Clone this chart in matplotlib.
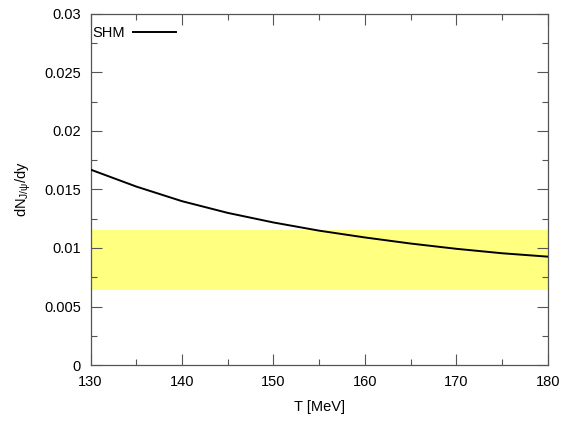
import matplotlib
matplotlib.use("Agg")
import matplotlib.pyplot as plt
from matplotlib.ticker import MultipleLocator

plt.rcParams['font.family'] = ['Liberation Sans', 'DejaVu Sans']
plt.rcParams['mathtext.fontset'] = 'custom'
plt.rcParams['mathtext.rm'] = 'Liberation Sans'
plt.rcParams['mathtext.it'] = 'Liberation Sans:italic'

# SHM curve
T = [130, 135, 140, 145, 150, 155, 160, 165, 170, 175, 180]
dndy = [0.0167, 0.01525, 0.0140, 0.0130, 0.01218, 0.01148, 0.0109, 0.01038, 0.00993, 0.00955, 0.00926]

# measured band
band_lo = 0.0064
band_hi = 0.0115

fig = plt.figure(figsize=(5.64, 4.22), dpi=100)
ax = fig.add_axes([0.1605, 0.135, 0.811, 0.832])

ax.axhspan(band_lo, band_hi, color='#ffff80', lw=0, zorder=1)
ax.plot(T, dndy, color='black', lw=1.4, label='SHM', zorder=3)

ax.set_xlim(130, 180)
ax.set_ylim(0, 0.03)
ax.xaxis.set_major_locator(MultipleLocator(10))
ax.xaxis.set_minor_locator(MultipleLocator(5))
ax.yaxis.set_minor_locator(MultipleLocator(0.0025))
ax.set_yticks([0, 0.005, 0.01, 0.015, 0.02, 0.025, 0.03])
ax.set_yticklabels(['0', '0.005', '0.01', '0.015', '0.02', '0.025', '0.03'])

ax.tick_params(which='both', direction='in', top=True, right=True,
               color='#555555', width=0.8, labelsize=10.5, pad=7)
ax.tick_params(which='major', length=8)
ax.tick_params(which='minor', length=4)
for s in ax.spines.values():
    s.set_color('#555555')
    s.set_linewidth(0.9)

ax.set_xlabel('T [MeV]', fontsize=10.5, labelpad=8)
ax.set_ylabel(r'dN$_{\mathrm{J/\psi}}$/dy', fontsize=10.5, labelpad=8)

ax.legend(loc='upper left', markerfirst=False, frameon=False, fontsize=10.5,
          handlelength=2.9, handletextpad=0.6, borderaxespad=0, borderpad=0,
          bbox_to_anchor=(0.003, 0.966))

fig.savefig('out.png', dpi=100)
